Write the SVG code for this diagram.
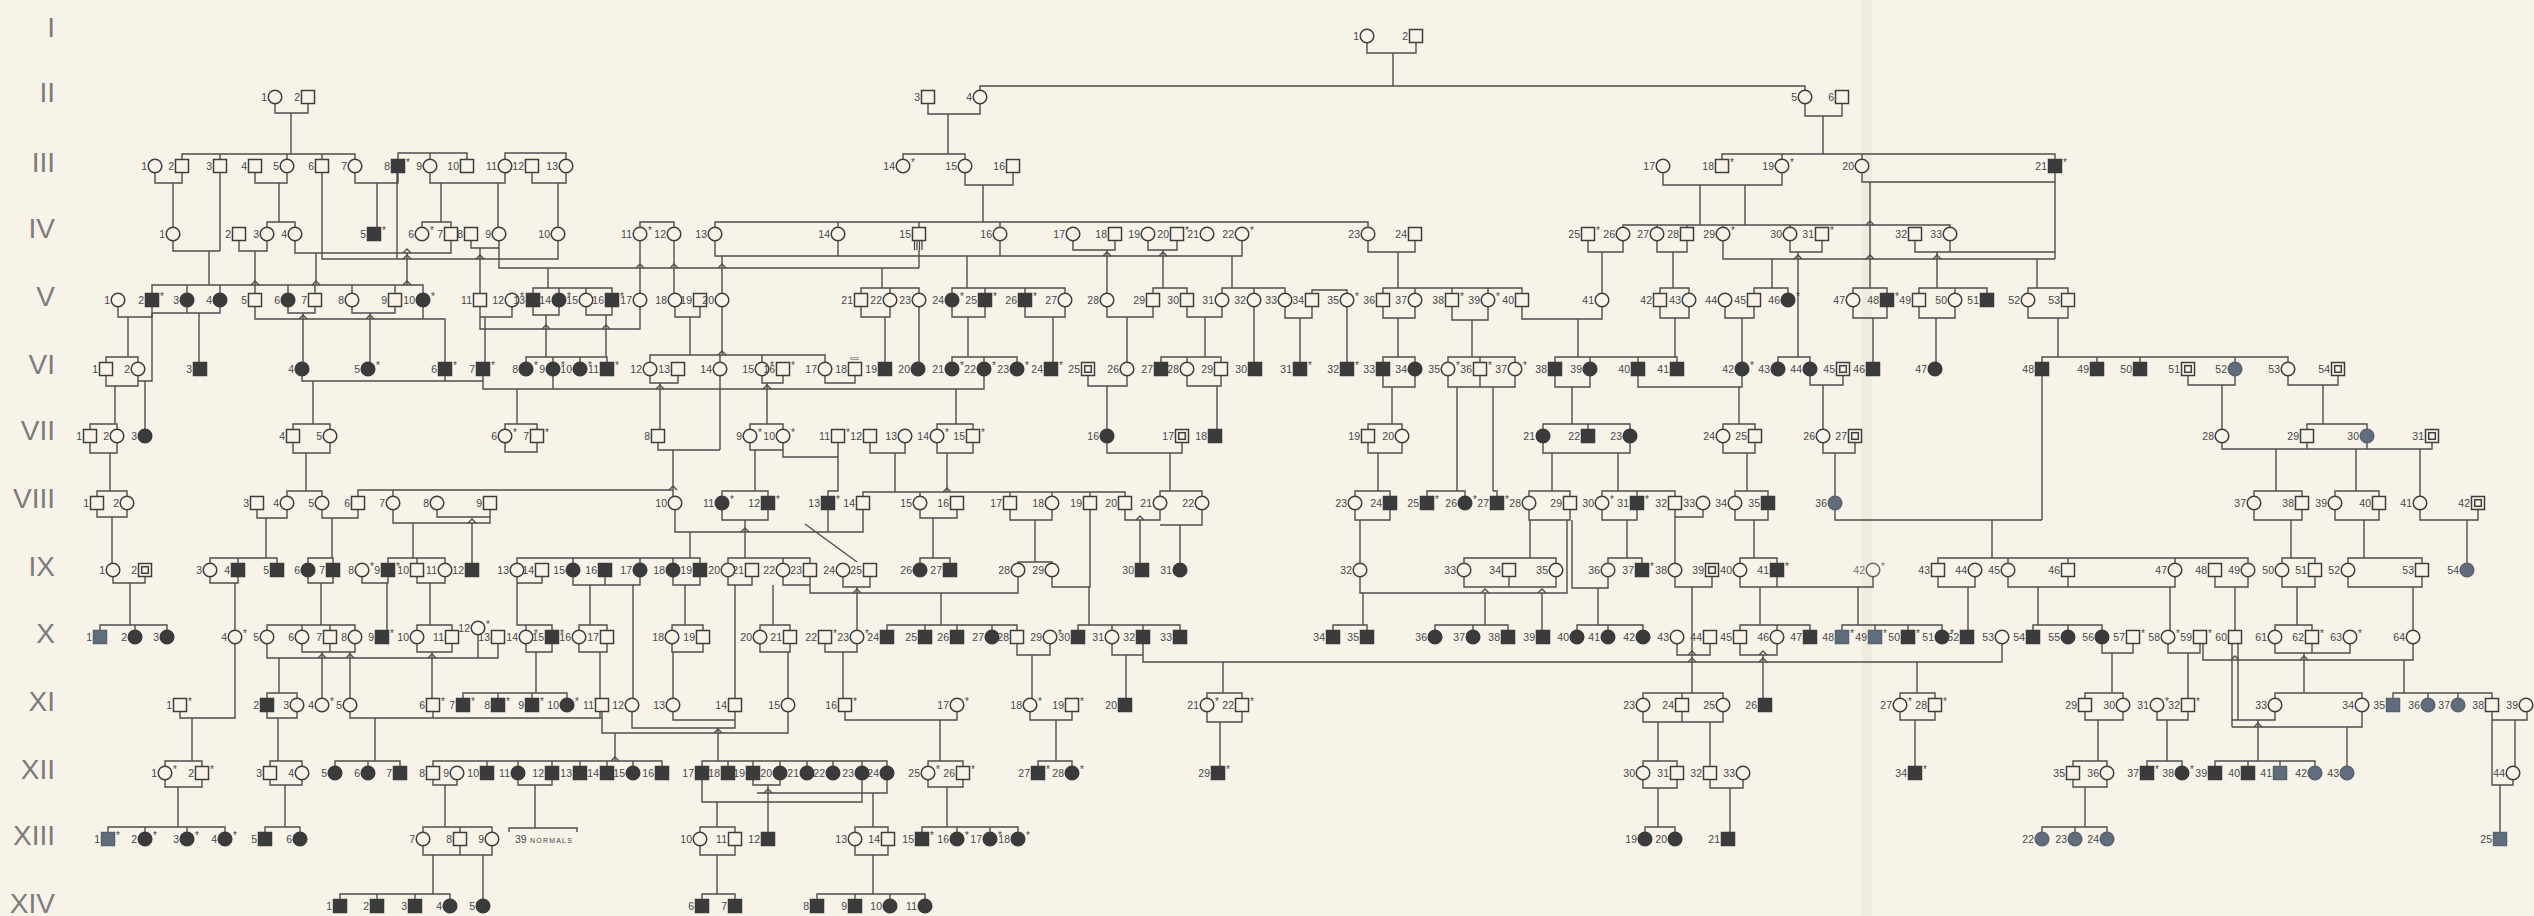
<svg xmlns="http://www.w3.org/2000/svg" xmlns:xlink="http://www.w3.org/1999/xlink" width="2534" height="916" viewBox="0 0 2534 916">
<style>
text{font-family:"Liberation Sans Narrow","Liberation Sans",Arial,sans-serif;font-size:10.5px;fill:#474747;text-anchor:end}
.k{text-anchor:start;font-size:10px}
.rn{font-size:28px;fill:#7c7c7c;text-anchor:end}
.o{fill:#f7f3e9;stroke:#3e3e3e;stroke-width:1.5}
.f{fill:#3b3b3b;stroke:#3b3b3b;stroke-width:1.5}
.b{fill:#5f6d7c;stroke:#59636f;stroke-width:1.5}
.cn path{fill:none;stroke:#4e4e4e;stroke-width:1.4}
.sm{font-size:7px;letter-spacing:1.2px;text-anchor:start}
</style>
<defs>
<rect id="s" x="-6.5" y="-6.5" width="13" height="13" class="o"/>
<circle id="c" r="6.8" class="o"/>
<rect id="S" x="-6.5" y="-6.5" width="13" height="13" class="f"/>
<circle id="C" r="6.8" class="f"/>
<rect id="B" x="-6.5" y="-6.5" width="13" height="13" class="b"/>
<circle id="D" r="6.8" class="b"/>
<g id="q"><rect x="-6.5" y="-6.5" width="13" height="13" class="o"/><rect x="-3.3" y="-3.3" width="6.6" height="6.6" class="o"/></g>
<g id="h"><rect x="-6.5" y="-6.5" width="13" height="13" class="o"/><path d="M-4.5 6.5V16M-2 6.5V16M0.5 6.5V16M3 6.5V16" stroke="#3e3e3e" stroke-width="1.2"/></g>
</defs>
<rect width="2534" height="916" fill="#f7f3e9"/>
<rect x="1862" y="0" width="10" height="916" fill="#e9e3d5" opacity="0.5"/>
<g id="generations">
<text class="rn" x="55" y="37">I</text>
<text class="rn" x="55" y="102">II</text>
<text class="rn" x="55" y="172">III</text>
<text class="rn" x="55" y="238">IV</text>
<text class="rn" x="55" y="306">V</text>
<text class="rn" x="55" y="374">VI</text>
<text class="rn" x="55" y="440">VII</text>
<text class="rn" x="55" y="508">VIII</text>
<text class="rn" x="55" y="576">IX</text>
<text class="rn" x="55" y="643">X</text>
<text class="rn" x="55" y="711">XI</text>
<text class="rn" x="55" y="779">XII</text>
<text class="rn" x="55" y="845">XIII</text>
<text class="rn" x="55" y="913">XIV</text>
</g>
<g id="connectors" class="cn">
<path d="M1367,42.5V53H1416V42.5M1393,53V86M980,90.5V86H1805V90.5M275,103.5V113H308V103.5M291,113V154M182,159.5V154H355V159.5M220,154V159.5M287,154V159.5M322,154V159.5M928,103.5V114H980V103.5M948,114V154M903,159.5V154H965V159.5M1805,103.5V116H1842V103.5M1823,116V154M1722,159.5V154H2055V159.5M1782,154V159.5M1862,154V159.5"/>
<path d="M155,172.5V183H182V172.5M173,183V227.5M220,172.5V251M173,240.5V251H220M209,251V285M255,172.5V183H287V172.5M279,183V222M267,227.5V222H295V227.5M295,240.5V253H451V240.5M322,172.5V259H558V240.5M397,172.5V259M316,253V285M407,253V285M355,172.5V183H398V172.5M377,183V227.5M398,159.5V153H467V159.5M430,153V159.5M430,172.5V183H505V172.5M441,183V222M422,227.5V222H451V227.5M498,183V227.5M505,159.5V153H566V159.5M532,172.5V183H566V172.5M558,183V227.5M965,172.5V185H1013V172.5M983,185V222M1663,172.5V185H1782V172.5M1700,185V225M1745,185V225M1862,172.5V182H2055M2055,172.5V259"/>
<path d="M152,293.5V285H423V293.5M187,285V293.5M220,285V293.5M255,285V293.5M288,285V293.5M315,285V293.5M352,285V293.5M395,285V293.5M239,240.5V251H267V240.5M255,251V285M471,240.5V248H499V240.5M480,248V293.5M499,240.5V268H919M548,268V288M640,227.5V222H674V227.5M640,240.5V293.5M674,240.5V293.5M715,227.5V222H1368V227.5M838,222V227.5M919,222V227.5M1000,222V227.5M715,240.5V256H1242V240.5M838,240.5V256M1000,240.5V256M722,256V293.5M919,250V268M882,268V288M861,293.5V288H919V293.5M890,288V293.5M967,256V288M952,293.5V288H1065V293.5M985,288V293.5M1025,288V293.5M1073,240.5V250H1115V240.5M1107,250V293.5M1148,240.5V250H1177V240.5M1163,250V288M1153,293.5V288H1187V293.5M1232,256V288M1222,293.5V288H1285V293.5M1254,288V293.5M1312,293.5V290H1347V293.5M1368,240.5V252H1415V240.5M1398,252V288M1383,293.5V288H1522V293.5M1415,288V293.5M1452,288V293.5M1488,288V293.5M1588,240.5V252H1623V240.5M1602,252V293.5M1623,227.5V225H1950V227.5M1657,225V227.5M1687,225V227.5M1723,225V227.5M1790,225V227.5M1657,240.5V252H1687V240.5M1673,252V288M1660,293.5V288H1689V293.5M1723,240.5V259H2055M1790,240.5V252H1822V240.5M1798,252V357M1772,259V288M1754,293.5V288H1788V293.5M1870,182V288M1853,293.5V288H1887V293.5M1915,240.5V252H2055M1950,240.5V252M1937,252V288M1919,293.5V288H1987V293.5M1955,288V293.5M2037,259V288M2028,293.5V288H2068V293.5"/>
<path d="M118,306.5V317H152V306.5M128,317V357M106,362.5V357H138V362.5M152,306.5V313H220V306.5M187,306.5V313M199,313V362.5M255,306.5V319H445V362.5M423,306.5V319M288,306.5V313H315V306.5M303,313V362.5M352,306.5V313H395V306.5M370,313V362.5M480,306.5V317H512V306.5M485,317V362.5M480,317V329H640V306.5M533,293.5V288H612V293.5M559,288V293.5M586,288V293.5M533,306.5V315H559V306.5M546,315V357M526,362.5V357H607V362.5M553,357V362.5M580,357V362.5M586,306.5V315H612V306.5M606,315V357M675,306.5V317H700V306.5M690,317V355M650,362.5V355H825V362.5M720,355V362.5M762,355V362.5M722,306.5V355M861,306.5V317H890V306.5M885,317V362.5M919,306.5V362.5M952,306.5V317H985V306.5M968,317V357M952,362.5V357H1017V362.5M984,357V362.5M1025,306.5V317H1065V306.5M1053,317V362.5M1107,306.5V317H1153V306.5M1127,317V362.5M1187,306.5V317H1222V306.5M1205,317V357M1161,362.5V357H1221V362.5M1187,357V362.5M1254,306.5V362.5M1285,306.5V318H1312V306.5M1300,318V362.5M1347,306.5V362.5M1383,306.5V318H1415V306.5M1398,318V357M1383,362.5V357H1415V362.5M1452,306.5V320H1488V306.5M1472,320V357M1448,362.5V357H1515V362.5M1480,357V362.5M1522,306.5V319H1602V306.5M1578,319V357M1555,362.5V357H1677V362.5M1590,357V362.5M1638,357V362.5M1660,306.5V318H1689V306.5M1675,318V357M1725,306.5V318H1754V306.5M1742,318V362.5M1853,306.5V318H1887V306.5M1873,318V362.5M1919,306.5V318H1955V306.5M1936,318V362.5M2028,306.5V318H2068V306.5M2058,318V357M2042,362.5V357H2288V362.5M2097,357V362.5M2140,357V362.5M2235,357V362.5M1778,362.5V357H1810V362.5"/>
<path d="M152,313V381H138V375.5M145,381V429.5M106,375.5V386H138V381M115,386V424M90,429.5V424H117V429.5M302,375.5V381H483M313,381V424M293,429.5V424H330V429.5M445,375.5V381M483,375.5V389H984V375.5M553,375.5V389M517,389V424M505,429.5V424H537V429.5M650,375.5V383H678V375.5M660,383V429.5M720,375.5V450M658,442.5V450H720M762,375.5V383H783V375.5M767,383V424M750,429.5V424H783V429.5M825,375.5V383H855V375.5M956,389V424M937,429.5V424H973V429.5M1088,375.5V386H1127V375.5M1107,386V429.5M1187,375.5V386H1221V375.5M1217,386V429.5M1383,375.5V387H1415V375.5M1392,387V424M1368,429.5V424H1402V429.5M1448,375.5V387H1515V375.5M1480,375.5V387M1457,387V491M1493,387V491M1555,375.5V387H1590V375.5M1572,387V424M1543,429.5V424H1630V429.5M1588,424V429.5M1638,375.5V387H1742V375.5M1739,387V424M1723,429.5V424H1755V429.5M1810,375.5V385H1843V375.5M1823,385V429.5M2042,375.5V520M2188,375.5V385H2235V375.5M2222,385V429.5M2288,375.5V385H2338V375.5M2323,385V424M2307,429.5V424H2367V429.5"/>
<path d="M90,442.5V453H117V442.5M110,453V491M97,496.5V491H127V496.5M293,442.5V453H330V442.5M306,453V491M287,496.5V491H322V496.5M505,442.5V452H537V442.5M673,450V496.5M358,496.5V490H673M393,490V496.5M750,442.5V450H783V442.5M783,442.5V457H838M755,450V491M722,496.5V491H768V496.5M838,442.5V491H828V496.5M870,442.5V453H905V442.5M895,453V492M863,496.5V492H1125V496.5M920,492V496.5M1010,492V496.5M1052,492V496.5M1090,492V496.5M937,442.5V453H973V442.5M947,453V492M1107,442.5V453H1182V442.5M1170,453V491M1160,496.5V491H1202V496.5M1368,442.5V453H1402V442.5M1378,453V491M1355,496.5V491H1390V496.5M1427,496.5V491H1465V496.5M1493,491H1497V496.5M1543,442.5V453H1630V442.5M1552,453V491M1529,496.5V491H1570V496.5M1618,453V491M1602,496.5V491H1675V496.5M1637,491V496.5M1723,442.5V453H1755V442.5M1747,453V491M1735,496.5V491H1768V496.5M1823,442.5V453H1855V442.5M1835,453V496.5M2222,442.5V449H2432V442.5M2307,442.5V449M2367,442.5V449M2276,449V491M2254,496.5V491H2302V496.5M2356,449V491M2335,496.5V491H2379V496.5M2420,449V496.5"/>
<path d="M97,509.5V517H127V509.5M112,517V563.5M257,509.5V518H287V509.5M266,518V558M210,563.5V558H277V563.5M238,558V563.5M322,509.5V518H358V509.5M332,518V558M308,563.5V558H333V563.5M393,509.5V523H490V509.5M437,509.5V517H490M413,523V558M388,563.5V558H445V563.5M417,558V563.5M472,523V563.5M675,509.5V532H863V509.5M828,509.5V532M690,532V558M517,563.5V558H700V563.5M573,558V563.5M640,558V563.5M673,558V563.5M722,509.5V520H768V509.5M745,520V558M728,563.5V558H810V563.5M783,558V563.5M805,524L857,562M920,509.5V518H957V509.5M933,518V558M920,563.5V558H950V563.5M1010,509.5V520H1052V509.5M1035,520V562M1018,563.5V562H1052V563.5M1090,509.5V587H1052V576.5M1089,587V625M1125,509.5V520H1160V509.5M1140,520V563.5M1202,509.5V525H1160M1180,525V563.5M1355,509.5V520H1390V509.5M1360,520V563.5M1529,509.5V520H1570V509.5M1530,520V558M1464,563.5V558H1556V563.5M1567,520V593H1360V576.5M1572,520V588H1608V576.5M1602,509.5V520H1637V509.5M1627,520V558M1608,563.5V558H1642V563.5M1675,509.5V563.5M1703,509.5V517H1675M1735,509.5V520H1768V509.5M1754,520V558M1740,563.5V558H1777V563.5M1835,509.5V520H2042M1992,520V558M1938,563.5V558H2248V563.5M2008,558V563.5M2068,558V563.5M2175,558V563.5M2254,509.5V520H2302V509.5M2291,520V558M2282,563.5V558H2315V563.5M2335,509.5V520H2379V509.5M2364,520V558M2348,563.5V558H2422V563.5M2420,509.5V520H2478V509.5M2467,520V563.5"/>
<path d="M113,576.5V583H145V576.5M130,583V625M100,630.5V625H167V630.5M135,625V630.5M210,576.5V583H238V576.5M235,583V630.5M308,576.5V583H333V576.5M321,583V625M267,630.5V625H355V630.5M302,625V630.5M330,625V630.5M362,576.5V583H388V576.5M387,583V630.5M417,576.5V583H445V576.5M430,583V625M417,630.5V625H452V630.5M517,576.5V583H542V576.5M517,583V625H552V630.5M526,625V630.5M573,576.5V585H640V576.5M605,576.5V585M590,585V625M579,630.5V625H607V630.5M633,585V698.5M673,576.5V585H700V576.5M685,585V625M672,630.5V625H703V630.5M728,576.5V585H752V576.5M735,585V698.5M783,576.5V585H810V576.5M773,585V625M760,630.5V625H790V630.5M810,585V593H1018V576.5M843,576.5V587H870V576.5M857,587V630.5M941,593V625M887,630.5V625H1017V630.5M925,625V630.5M957,625V630.5M992,625V630.5M1078,630.5V625H1180V630.5M1112,625V630.5M1143,625V630.5M1363,593V625M1333,630.5V625H1367V630.5M1485,593V625M1435,630.5V625H1508V630.5M1473,625V630.5M1542,593V630.5M1464,576.5V587H1556V576.5M1509,576.5V587M1598,588V625M1577,630.5V625H1643V630.5M1608,625V630.5M1675,576.5V587H1712V576.5M1692,587V693M1740,576.5V587H1873V576.5M1777,576.5V587M1760,587V625M1740,630.5V625H1810V630.5M1777,625V630.5M1858,587V625M1842,630.5V625H1942V630.5M1875,625V630.5M1908,625V630.5M1938,576.5V587H1975V576.5M1968,587V630.5M2008,576.5V587H2175V576.5M2068,576.5V587M2038,587V625M2033,630.5V625H2102V630.5M2068,625V630.5M2170,587V630.5M2215,576.5V587H2248V576.5M2235,587V630.5M2282,576.5V587H2315V576.5M2297,587V625M2275,630.5V625H2312V630.5M2348,576.5V587H2422V576.5M2413,587V630.5"/>
<path d="M235,643.5V718H180V711.5M267,643.5V658H498V643.5M279,658V693M267,698.5V693H297V698.5M302,643.5V652H355V643.5M330,643.5V652M322,652V698.5M350,652V698.5M417,643.5V652H452V643.5M432,652V698.5M478,634.5V658M526,643.5V652H552V643.5M536,652V693M463,698.5V693H567V698.5M498,693V698.5M532,693V698.5M579,643.5V652H607V643.5M600,652V718M672,643.5V652H703V643.5M673,652V698.5M760,643.5V652H790V643.5M788,652V698.5M825,643.5V652H857V643.5M843,652V698.5M1017,643.5V655H1050V643.5M1032,655V698.5M1112,643.5V655H1143V643.5M1126,655V698.5M1143,655V662H2002V643.5M1223,662V693M1207,698.5V693H1242V698.5M1917,662V693M1900,698.5V693H1935V698.5M1677,643.5V655H1710V643.5M1643,698.5V693H1723V698.5M1682,693V698.5M1740,643.5V655H1777V643.5M1763,655V698.5M2102,643.5V653H2133V643.5M2112,653V693M2085,698.5V693H2123V698.5M2168,643.5V653H2200V643.5M2188,653V698.5M2203,643.5V660H2413V643.5M2404,660V693M2393,698.5V693H2492V698.5M2428,693V698.5M2458,693V698.5M2232,643.5V727M2238,643.5V720M2275,643.5V653H2350V643.5M2312,643.5V653M2304,653V693M2275,698.5V693H2362V698.5"/>
<path d="M192,718V761M165,766.5V761H202V766.5M267,711.5V718H297V711.5M278,718V761M270,766.5V761H302V766.5M350,711.5V718H602V711.5M433,711.5V718M375,718V761M335,766.5V761H400V766.5M368,761V766.5M602,718V733H788V711.5M615,733V761M433,766.5V761H662V766.5M487,761V766.5M518,761V766.5M552,761V766.5M580,761V766.5M607,761V766.5M633,761V766.5M632,711.5V728H735V711.5M673,711.5V720H735M718,728V761M702,766.5V761H887V766.5M728,761V766.5M753,761V766.5M780,761V766.5M807,761V766.5M833,761V766.5M862,761V766.5M845,711.5V720H957V711.5M940,720V761M928,766.5V761H963V766.5M1030,711.5V720H1072V711.5M1056,720V761M1038,766.5V761H1072V766.5M1207,711.5V722H1242V711.5M1220,722V766.5M1643,711.5V722H1723V711.5M1682,711.5V722M1658,722V761M1643,766.5V761H1677V766.5M1710,722V766.5M1900,711.5V720H1935V711.5M1915,720V766.5M2085,711.5V720H2123V711.5M2098,720V761M2073,766.5V761H2107V766.5M2157,711.5V720H2188V711.5M2167,720V761M2147,766.5V761H2182V766.5M2232,720H2275V711.5M2258,720V761M2215,766.5V761H2315V766.5M2248,761V766.5M2280,761V766.5M2232,727H2362V711.5M2347,727V766.5M2492,711.5V720H2527V711.5M2515,720V766.5M2492,720V785H2513V779.5M2500,785V832.5"/>
<path d="M165,779.5V787H202V779.5M178,787V827M108,832.5V827H225V832.5M145,827V832.5M187,827V832.5M270,779.5V785H302V779.5M285,785V827M265,832.5V827H300V832.5M433,779.5V785H457V779.5M445,785V827M423,832.5V827H492V832.5M460,827V832.5M518,779.5V785H552V779.5M535,785V828M509,832V828H577V832M702,779.5V802H862V779.5M717,802V827M700,832.5V827H735V832.5M753,779.5V785H780V779.5M768,785V832.5M757,793H887V779.5M873,793V827M855,832.5V827H888V832.5M928,779.5V787H963V779.5M947,787V827M922,832.5V827H1018V832.5M957,827V832.5M990,827V832.5M1643,779.5V788H1677V779.5M1658,788V827M1645,832.5V827H1675V832.5M1710,779.5V788H1743V779.5M1730,788V832.5M2073,779.5V787H2107V779.5M2085,787V827M2042,832.5V827H2107V832.5M2075,827V832.5M423,845.5V855H492V845.5M460,845.5V855M433,855V894M340,899.5V894H450V899.5M377,894V899.5M415,894V899.5M483,855V899.5M700,845.5V855H735V845.5M717,855V894M702,899.5V894H735V899.5M855,845.5V855H888V845.5M873,855V894M817,899.5V894H925V899.5M855,894V899.5M890,894V899.5"/>
<path id="hops" d="M251,285l4,-4l4,4M312,285l4,-4l4,4M403,285l4,-4l4,4M403,253l4,-4l4,4M403,259l4,-4l4,4M299,319l4,-4l4,4M366,319l4,-4l4,4M476,259l4,-4l4,4M636,268l4,-4l4,4M670,268l4,-4l4,4M718,268l4,-4l4,4M1103,256l4,-4l4,4M1159,256l4,-4l4,4M542,329l4,-4l4,4M602,329l4,-4l4,4M718,355l4,-4l4,4M656,389l4,-4l4,4M763,389l4,-4l4,4M669,490l4,-4l4,4M468,523l4,-4l4,4M741,532l4,-4l4,4M1136,520l4,-4l4,4M943,492l4,-4l4,4M853,593l4,-4l4,4M1481,593l4,-4l4,4M1538,593l4,-4l4,4M318,658l4,-4l4,4M346,658l4,-4l4,4M428,658l4,-4l4,4M714,733l4,-4l4,4M611,761l4,-4l4,4M764,793l4,-4l4,4M1866,225l4,-4l4,4M1794,259l4,-4l4,4M1866,259l4,-4l4,4M1933,259l4,-4l4,4M1688,655l4,-4l4,4M1759,655l4,-4l4,4M1688,662l4,-4l4,4M1759,662l4,-4l4,4M2231,660l4,-4l4,4M2300,660l4,-4l4,4M2254,727l4,-4l4,4"/>
</g>
<g id="nodes">
<g id="g1-1" transform="translate(1367 36)"><use href="#c"/><text x="-8" y="4">1</text></g>
<g id="g1-2" transform="translate(1416 36)"><use href="#s"/><text x="-8" y="4">2</text></g>
<g id="g2-1" transform="translate(275 97)"><use href="#c"/><text x="-8" y="4">1</text></g>
<g id="g2-2" transform="translate(308 97)"><use href="#s"/><text x="-8" y="4">2</text></g>
<g id="g2-3" transform="translate(928 97)"><use href="#s"/><text x="-8" y="4">3</text></g>
<g id="g2-4" transform="translate(980 97)"><use href="#c"/><text x="-8" y="4">4</text></g>
<g id="g2-5" transform="translate(1805 97)"><use href="#c"/><text x="-8" y="4">5</text></g>
<g id="g2-6" transform="translate(1842 97)"><use href="#s"/><text x="-8" y="4">6</text></g>
<g id="g3-1" transform="translate(155 166)"><use href="#c"/><text x="-8" y="4">1</text></g>
<g id="g3-2" transform="translate(182 166)"><use href="#s"/><text x="-8" y="4">2</text></g>
<g id="g3-3" transform="translate(220 166)"><use href="#s"/><text x="-8" y="4">3</text></g>
<g id="g3-4" transform="translate(255 166)"><use href="#s"/><text x="-8" y="4">4</text></g>
<g id="g3-5" transform="translate(287 166)"><use href="#c"/><text x="-8" y="4">5</text></g>
<g id="g3-6" transform="translate(322 166)"><use href="#s"/><text x="-8" y="4">6</text></g>
<g id="g3-7" transform="translate(355 166)"><use href="#c"/><text x="-8" y="4">7</text></g>
<g id="g3-8" transform="translate(398 166)"><use href="#S"/><text x="-8" y="4">8</text><text class="k" x="8" y="0">*</text></g>
<g id="g3-9" transform="translate(430 166)"><use href="#c"/><text x="-8" y="4">9</text></g>
<g id="g3-10" transform="translate(467 166)"><use href="#s"/><text x="-8" y="4">10</text></g>
<g id="g3-11" transform="translate(505 166)"><use href="#c"/><text x="-8" y="4">11</text></g>
<g id="g3-12" transform="translate(532 166)"><use href="#s"/><text x="-8" y="4">12</text></g>
<g id="g3-13" transform="translate(566 166)"><use href="#c"/><text x="-8" y="4">13</text></g>
<g id="g3-14" transform="translate(903 166)"><use href="#c"/><text x="-8" y="4">14</text><text class="k" x="8" y="0">*</text></g>
<g id="g3-15" transform="translate(965 166)"><use href="#c"/><text x="-8" y="4">15</text></g>
<g id="g3-16" transform="translate(1013 166)"><use href="#s"/><text x="-8" y="4">16</text></g>
<g id="g3-17" transform="translate(1663 166)"><use href="#c"/><text x="-8" y="4">17</text></g>
<g id="g3-18" transform="translate(1722 166)"><use href="#s"/><text x="-8" y="4">18</text><text class="k" x="8" y="0">*</text></g>
<g id="g3-19" transform="translate(1782 166)"><use href="#c"/><text x="-8" y="4">19</text><text class="k" x="8" y="0">*</text></g>
<g id="g3-20" transform="translate(1862 166)"><use href="#c"/><text x="-8" y="4">20</text></g>
<g id="g3-21" transform="translate(2055 166)"><use href="#S"/><text x="-8" y="4">21</text><text class="k" x="8" y="0">*</text></g>
<g id="g4-1" transform="translate(173 234)"><use href="#c"/><text x="-8" y="4">1</text></g>
<g id="g4-2" transform="translate(239 234)"><use href="#s"/><text x="-8" y="4">2</text></g>
<g id="g4-3" transform="translate(267 234)"><use href="#c"/><text x="-8" y="4">3</text></g>
<g id="g4-4" transform="translate(295 234)"><use href="#c"/><text x="-8" y="4">4</text></g>
<g id="g4-5" transform="translate(374 234)"><use href="#S"/><text x="-8" y="4">5</text><text class="k" x="8" y="0">*</text></g>
<g id="g4-6" transform="translate(422 234)"><use href="#c"/><text x="-8" y="4">6</text><text class="k" x="8" y="0">*</text></g>
<g id="g4-7" transform="translate(451 234)"><use href="#s"/><text x="-8" y="4">7</text></g>
<g id="g4-8" transform="translate(471 234)"><use href="#s"/><text x="-8" y="4">8</text></g>
<g id="g4-9" transform="translate(499 234)"><use href="#c"/><text x="-8" y="4">9</text></g>
<g id="g4-10" transform="translate(558 234)"><use href="#c"/><text x="-8" y="4">10</text></g>
<g id="g4-11" transform="translate(640 234)"><use href="#c"/><text x="-8" y="4">11</text><text class="k" x="8" y="0">*</text></g>
<g id="g4-12" transform="translate(674 234)"><use href="#c"/><text x="-8" y="4">12</text></g>
<g id="g4-13" transform="translate(715 234)"><use href="#c"/><text x="-8" y="4">13</text></g>
<g id="g4-14" transform="translate(838 234)"><use href="#c"/><text x="-8" y="4">14</text></g>
<g id="g4-15" transform="translate(919 234)"><use href="#h"/><text x="-8" y="4">15</text></g>
<g id="g4-16" transform="translate(1000 234)"><use href="#c"/><text x="-8" y="4">16</text></g>
<g id="g4-17" transform="translate(1073 234)"><use href="#c"/><text x="-8" y="4">17</text></g>
<g id="g4-18" transform="translate(1115 234)"><use href="#s"/><text x="-8" y="4">18</text></g>
<g id="g4-19" transform="translate(1148 234)"><use href="#c"/><text x="-8" y="4">19</text></g>
<g id="g4-20" transform="translate(1177 234)"><use href="#s"/><text x="-8" y="4">20</text><text class="k" x="8" y="0">*</text></g>
<g id="g4-21" transform="translate(1207 234)"><use href="#c"/><text x="-8" y="4">21</text></g>
<g id="g4-22" transform="translate(1242 234)"><use href="#c"/><text x="-8" y="4">22</text><text class="k" x="8" y="0">*</text></g>
<g id="g4-23" transform="translate(1368 234)"><use href="#c"/><text x="-8" y="4">23</text></g>
<g id="g4-24" transform="translate(1415 234)"><use href="#s"/><text x="-8" y="4">24</text></g>
<g id="g4-25" transform="translate(1588 234)"><use href="#s"/><text x="-8" y="4">25</text><text class="k" x="8" y="0">*</text></g>
<g id="g4-26" transform="translate(1623 234)"><use href="#c"/><text x="-8" y="4">26</text></g>
<g id="g4-27" transform="translate(1657 234)"><use href="#c"/><text x="-8" y="4">27</text></g>
<g id="g4-28" transform="translate(1687 234)"><use href="#s"/><text x="-8" y="4">28</text></g>
<g id="g4-29" transform="translate(1723 234)"><use href="#c"/><text x="-8" y="4">29</text><text class="k" x="8" y="0">*</text></g>
<g id="g4-30" transform="translate(1790 234)"><use href="#c"/><text x="-8" y="4">30</text></g>
<g id="g4-31" transform="translate(1822 234)"><use href="#s"/><text x="-8" y="4">31</text><text class="k" x="8" y="0">*</text></g>
<g id="g4-32" transform="translate(1915 234)"><use href="#s"/><text x="-8" y="4">32</text></g>
<g id="g4-33" transform="translate(1950 234)"><use href="#c"/><text x="-8" y="4">33</text></g>
<g id="g5-1" transform="translate(118 300)"><use href="#c"/><text x="-8" y="4">1</text></g>
<g id="g5-2" transform="translate(152 300)"><use href="#S"/><text x="-8" y="4">2</text><text class="k" x="8" y="0">*</text></g>
<g id="g5-3" transform="translate(187 300)"><use href="#C"/><text x="-8" y="4">3</text></g>
<g id="g5-4" transform="translate(220 300)"><use href="#C"/><text x="-8" y="4">4</text></g>
<g id="g5-5" transform="translate(255 300)"><use href="#s"/><text x="-8" y="4">5</text></g>
<g id="g5-6" transform="translate(288 300)"><use href="#C"/><text x="-8" y="4">6</text></g>
<g id="g5-7" transform="translate(315 300)"><use href="#s"/><text x="-8" y="4">7</text></g>
<g id="g5-8" transform="translate(352 300)"><use href="#c"/><text x="-8" y="4">8</text></g>
<g id="g5-9" transform="translate(395 300)"><use href="#s"/><text x="-8" y="4">9</text></g>
<g id="g5-10" transform="translate(423 300)"><use href="#C"/><text x="-8" y="4">10</text><text class="k" x="8" y="0">*</text></g>
<g id="g5-11" transform="translate(480 300)"><use href="#s"/><text x="-8" y="4">11</text></g>
<g id="g5-12" transform="translate(512 300)"><use href="#c"/><text x="-8" y="4">12</text><text class="k" x="8" y="0">*</text></g>
<g id="g5-13" transform="translate(533 300)"><use href="#S"/><text x="-8" y="4">13</text></g>
<g id="g5-14" transform="translate(559 300)"><use href="#C"/><text x="-8" y="4">14</text><text class="k" x="8" y="0">*</text></g>
<g id="g5-15" transform="translate(586 300)"><use href="#c"/><text x="-8" y="4">15</text></g>
<g id="g5-16" transform="translate(612 300)"><use href="#S"/><text x="-8" y="4">16</text><text class="k" x="8" y="0">*</text></g>
<g id="g5-17" transform="translate(640 300)"><use href="#c"/><text x="-8" y="4">17</text></g>
<g id="g5-18" transform="translate(675 300)"><use href="#c"/><text x="-8" y="4">18</text></g>
<g id="g5-19" transform="translate(700 300)"><use href="#s"/><text x="-8" y="4">19</text></g>
<g id="g5-20" transform="translate(722 300)"><use href="#c"/><text x="-8" y="4">20</text></g>
<g id="g5-21" transform="translate(861 300)"><use href="#s"/><text x="-8" y="4">21</text></g>
<g id="g5-22" transform="translate(890 300)"><use href="#c"/><text x="-8" y="4">22</text></g>
<g id="g5-23" transform="translate(919 300)"><use href="#c"/><text x="-8" y="4">23</text></g>
<g id="g5-24" transform="translate(952 300)"><use href="#C"/><text x="-8" y="4">24</text><text class="k" x="8" y="0">*</text></g>
<g id="g5-25" transform="translate(985 300)"><use href="#S"/><text x="-8" y="4">25</text><text class="k" x="8" y="0">*</text></g>
<g id="g5-26" transform="translate(1025 300)"><use href="#S"/><text x="-8" y="4">26</text><text class="k" x="8" y="0">*</text></g>
<g id="g5-27" transform="translate(1065 300)"><use href="#c"/><text x="-8" y="4">27</text></g>
<g id="g5-28" transform="translate(1107 300)"><use href="#c"/><text x="-8" y="4">28</text></g>
<g id="g5-29" transform="translate(1153 300)"><use href="#s"/><text x="-8" y="4">29</text></g>
<g id="g5-30" transform="translate(1187 300)"><use href="#s"/><text x="-8" y="4">30</text></g>
<g id="g5-31" transform="translate(1222 300)"><use href="#c"/><text x="-8" y="4">31</text></g>
<g id="g5-32" transform="translate(1254 300)"><use href="#c"/><text x="-8" y="4">32</text></g>
<g id="g5-33" transform="translate(1285 300)"><use href="#c"/><text x="-8" y="4">33</text></g>
<g id="g5-34" transform="translate(1312 300)"><use href="#s"/><text x="-8" y="4">34</text></g>
<g id="g5-35" transform="translate(1347 300)"><use href="#c"/><text x="-8" y="4">35</text><text class="k" x="8" y="0">*</text></g>
<g id="g5-36" transform="translate(1383 300)"><use href="#s"/><text x="-8" y="4">36</text></g>
<g id="g5-37" transform="translate(1415 300)"><use href="#c"/><text x="-8" y="4">37</text></g>
<g id="g5-38" transform="translate(1452 300)"><use href="#s"/><text x="-8" y="4">38</text><text class="k" x="8" y="0">*</text></g>
<g id="g5-39" transform="translate(1488 300)"><use href="#c"/><text x="-8" y="4">39</text><text class="k" x="8" y="0">*</text></g>
<g id="g5-40" transform="translate(1522 300)"><use href="#s"/><text x="-8" y="4">40</text></g>
<g id="g5-41" transform="translate(1602 300)"><use href="#c"/><text x="-8" y="4">41</text></g>
<g id="g5-42" transform="translate(1660 300)"><use href="#s"/><text x="-8" y="4">42</text></g>
<g id="g5-43" transform="translate(1689 300)"><use href="#c"/><text x="-8" y="4">43</text></g>
<g id="g5-44" transform="translate(1725 300)"><use href="#c"/><text x="-8" y="4">44</text></g>
<g id="g5-45" transform="translate(1754 300)"><use href="#s"/><text x="-8" y="4">45</text></g>
<g id="g5-46" transform="translate(1788 300)"><use href="#C"/><text x="-8" y="4">46</text><text class="k" x="8" y="0">*</text></g>
<g id="g5-47" transform="translate(1853 300)"><use href="#c"/><text x="-8" y="4">47</text></g>
<g id="g5-48" transform="translate(1887 300)"><use href="#S"/><text x="-8" y="4">48</text><text class="k" x="8" y="0">*</text></g>
<g id="g5-49" transform="translate(1919 300)"><use href="#s"/><text x="-8" y="4">49</text></g>
<g id="g5-50" transform="translate(1955 300)"><use href="#c"/><text x="-8" y="4">50</text></g>
<g id="g5-51" transform="translate(1987 300)"><use href="#S"/><text x="-8" y="4">51</text></g>
<g id="g5-52" transform="translate(2028 300)"><use href="#c"/><text x="-8" y="4">52</text></g>
<g id="g5-53" transform="translate(2068 300)"><use href="#s"/><text x="-8" y="4">53</text></g>
<g id="g6-1" transform="translate(106 369)"><use href="#s"/><text x="-8" y="4">1</text></g>
<g id="g6-2" transform="translate(138 369)"><use href="#c"/><text x="-8" y="4">2</text></g>
<g id="g6-3" transform="translate(200 369)"><use href="#S"/><text x="-8" y="4">3</text></g>
<g id="g6-4" transform="translate(302 369)"><use href="#C"/><text x="-8" y="4">4</text></g>
<g id="g6-5" transform="translate(368 369)"><use href="#C"/><text x="-8" y="4">5</text><text class="k" x="8" y="0">*</text></g>
<g id="g6-6" transform="translate(445 369)"><use href="#S"/><text x="-8" y="4">6</text><text class="k" x="8" y="0">*</text></g>
<g id="g6-7" transform="translate(483 369)"><use href="#S"/><text x="-8" y="4">7</text><text class="k" x="8" y="0">*</text></g>
<g id="g6-8" transform="translate(526 369)"><use href="#C"/><text x="-8" y="4">8</text><text class="k" x="8" y="0">*</text></g>
<g id="g6-9" transform="translate(553 369)"><use href="#C"/><text x="-8" y="4">9</text><text class="k" x="8" y="0">*</text></g>
<g id="g6-10" transform="translate(580 369)"><use href="#C"/><text x="-8" y="4">10</text><text class="k" x="8" y="0">*</text></g>
<g id="g6-11" transform="translate(607 369)"><use href="#S"/><text x="-8" y="4">11</text><text class="k" x="8" y="0">*</text></g>
<g id="g6-12" transform="translate(650 369)"><use href="#c"/><text x="-8" y="4">12</text></g>
<g id="g6-13" transform="translate(678 369)"><use href="#s"/><text x="-8" y="4">13</text></g>
<g id="g6-14" transform="translate(720 369)"><use href="#c"/><text x="-8" y="4">14</text></g>
<g id="g6-15" transform="translate(762 369)"><use href="#c"/><text x="-8" y="4">15</text><text class="k" x="8" y="0">*</text></g>
<g id="g6-16" transform="translate(783 369)"><use href="#s"/><text x="-8" y="4">16</text><text class="k" x="8" y="0">*</text></g>
<g id="g6-17" transform="translate(825 369)"><use href="#c"/><text x="-8" y="4">17</text></g>
<g id="g6-18" transform="translate(855 369)"><use href="#s"/><text x="-8" y="4">18</text><text class="k" x="-5" y="-9" style="font-size:6px">ccc</text></g>
<g id="g6-19" transform="translate(885 369)"><use href="#S"/><text x="-8" y="4">19</text></g>
<g id="g6-20" transform="translate(918 369)"><use href="#C"/><text x="-8" y="4">20</text></g>
<g id="g6-21" transform="translate(952 369)"><use href="#C"/><text x="-8" y="4">21</text><text class="k" x="8" y="0">*</text></g>
<g id="g6-22" transform="translate(984 369)"><use href="#C"/><text x="-8" y="4">22</text><text class="k" x="8" y="0">*</text></g>
<g id="g6-23" transform="translate(1017 369)"><use href="#C"/><text x="-8" y="4">23</text><text class="k" x="8" y="0">*</text></g>
<g id="g6-24" transform="translate(1051 369)"><use href="#S"/><text x="-8" y="4">24</text><text class="k" x="8" y="0">*</text></g>
<g id="g6-25" transform="translate(1088 369)"><use href="#q"/><text x="-8" y="4">25</text></g>
<g id="g6-26" transform="translate(1127 369)"><use href="#c"/><text x="-8" y="4">26</text></g>
<g id="g6-27" transform="translate(1161 369)"><use href="#S"/><text x="-8" y="4">27</text></g>
<g id="g6-28" transform="translate(1187 369)"><use href="#c"/><text x="-8" y="4">28</text></g>
<g id="g6-29" transform="translate(1221 369)"><use href="#s"/><text x="-8" y="4">29</text></g>
<g id="g6-30" transform="translate(1255 369)"><use href="#S"/><text x="-8" y="4">30</text></g>
<g id="g6-31" transform="translate(1300 369)"><use href="#S"/><text x="-8" y="4">31</text><text class="k" x="8" y="0">*</text></g>
<g id="g6-32" transform="translate(1347 369)"><use href="#S"/><text x="-8" y="4">32</text><text class="k" x="8" y="0">*</text></g>
<g id="g6-33" transform="translate(1383 369)"><use href="#S"/><text x="-8" y="4">33</text></g>
<g id="g6-34" transform="translate(1415 369)"><use href="#C"/><text x="-8" y="4">34</text></g>
<g id="g6-35" transform="translate(1448 369)"><use href="#c"/><text x="-8" y="4">35</text><text class="k" x="8" y="0">*</text></g>
<g id="g6-36" transform="translate(1480 369)"><use href="#s"/><text x="-8" y="4">36</text><text class="k" x="8" y="0">*</text></g>
<g id="g6-37" transform="translate(1515 369)"><use href="#c"/><text x="-8" y="4">37</text><text class="k" x="8" y="0">*</text></g>
<g id="g6-38" transform="translate(1555 369)"><use href="#S"/><text x="-8" y="4">38</text></g>
<g id="g6-39" transform="translate(1590 369)"><use href="#C"/><text x="-8" y="4">39</text></g>
<g id="g6-40" transform="translate(1638 369)"><use href="#S"/><text x="-8" y="4">40</text></g>
<g id="g6-41" transform="translate(1677 369)"><use href="#S"/><text x="-8" y="4">41</text></g>
<g id="g6-42" transform="translate(1742 369)"><use href="#C"/><text x="-8" y="4">42</text><text class="k" x="8" y="0">*</text></g>
<g id="g6-43" transform="translate(1778 369)"><use href="#C"/><text x="-8" y="4">43</text></g>
<g id="g6-44" transform="translate(1810 369)"><use href="#C"/><text x="-8" y="4">44</text></g>
<g id="g6-45" transform="translate(1843 369)"><use href="#q"/><text x="-8" y="4">45</text></g>
<g id="g6-46" transform="translate(1873 369)"><use href="#S"/><text x="-8" y="4">46</text></g>
<g id="g6-47" transform="translate(1935 369)"><use href="#C"/><text x="-8" y="4">47</text></g>
<g id="g6-48" transform="translate(2042 369)"><use href="#S"/><text x="-8" y="4">48</text></g>
<g id="g6-49" transform="translate(2097 369)"><use href="#S"/><text x="-8" y="4">49</text></g>
<g id="g6-50" transform="translate(2140 369)"><use href="#S"/><text x="-8" y="4">50</text></g>
<g id="g6-51" transform="translate(2188 369)"><use href="#q"/><text x="-8" y="4">51</text></g>
<g id="g6-52" transform="translate(2235 369)"><use href="#D"/><text x="-8" y="4">52</text></g>
<g id="g6-53" transform="translate(2288 369)"><use href="#c"/><text x="-8" y="4">53</text></g>
<g id="g6-54" transform="translate(2338 369)"><use href="#q"/><text x="-8" y="4">54</text></g>
<g id="g7-1" transform="translate(90 436)"><use href="#s"/><text x="-8" y="4">1</text></g>
<g id="g7-2" transform="translate(117 436)"><use href="#c"/><text x="-8" y="4">2</text></g>
<g id="g7-3" transform="translate(145 436)"><use href="#C"/><text x="-8" y="4">3</text></g>
<g id="g7-4" transform="translate(293 436)"><use href="#s"/><text x="-8" y="4">4</text></g>
<g id="g7-5" transform="translate(330 436)"><use href="#c"/><text x="-8" y="4">5</text></g>
<g id="g7-6" transform="translate(505 436)"><use href="#c"/><text x="-8" y="4">6</text><text class="k" x="8" y="0">*</text></g>
<g id="g7-7" transform="translate(537 436)"><use href="#s"/><text x="-8" y="4">7</text><text class="k" x="8" y="0">*</text></g>
<g id="g7-8" transform="translate(658 436)"><use href="#s"/><text x="-8" y="4">8</text></g>
<g id="g7-9" transform="translate(750 436)"><use href="#c"/><text x="-8" y="4">9</text><text class="k" x="8" y="0">*</text></g>
<g id="g7-10" transform="translate(783 436)"><use href="#c"/><text x="-8" y="4">10</text><text class="k" x="8" y="0">*</text></g>
<g id="g7-11" transform="translate(838 436)"><use href="#s"/><text x="-8" y="4">11</text><text class="k" x="8" y="0">*</text></g>
<g id="g7-12" transform="translate(870 436)"><use href="#s"/><text x="-8" y="4">12</text></g>
<g id="g7-13" transform="translate(905 436)"><use href="#c"/><text x="-8" y="4">13</text></g>
<g id="g7-14" transform="translate(937 436)"><use href="#c"/><text x="-8" y="4">14</text><text class="k" x="8" y="0">*</text></g>
<g id="g7-15" transform="translate(973 436)"><use href="#s"/><text x="-8" y="4">15</text><text class="k" x="8" y="0">*</text></g>
<g id="g7-16" transform="translate(1107 436)"><use href="#C"/><text x="-8" y="4">16</text></g>
<g id="g7-17" transform="translate(1182 436)"><use href="#q"/><text x="-8" y="4">17</text></g>
<g id="g7-18" transform="translate(1215 436)"><use href="#S"/><text x="-8" y="4">18</text></g>
<g id="g7-19" transform="translate(1368 436)"><use href="#s"/><text x="-8" y="4">19</text></g>
<g id="g7-20" transform="translate(1402 436)"><use href="#c"/><text x="-8" y="4">20</text></g>
<g id="g7-21" transform="translate(1543 436)"><use href="#C"/><text x="-8" y="4">21</text></g>
<g id="g7-22" transform="translate(1588 436)"><use href="#S"/><text x="-8" y="4">22</text></g>
<g id="g7-23" transform="translate(1630 436)"><use href="#C"/><text x="-8" y="4">23</text></g>
<g id="g7-24" transform="translate(1723 436)"><use href="#c"/><text x="-8" y="4">24</text></g>
<g id="g7-25" transform="translate(1755 436)"><use href="#s"/><text x="-8" y="4">25</text></g>
<g id="g7-26" transform="translate(1823 436)"><use href="#c"/><text x="-8" y="4">26</text></g>
<g id="g7-27" transform="translate(1855 436)"><use href="#q"/><text x="-8" y="4">27</text></g>
<g id="g7-28" transform="translate(2222 436)"><use href="#c"/><text x="-8" y="4">28</text></g>
<g id="g7-29" transform="translate(2307 436)"><use href="#s"/><text x="-8" y="4">29</text></g>
<g id="g7-30" transform="translate(2367 436)"><use href="#D"/><text x="-8" y="4">30</text></g>
<g id="g7-31" transform="translate(2432 436)"><use href="#q"/><text x="-8" y="4">31</text></g>
<g id="g8-1" transform="translate(97 503)"><use href="#s"/><text x="-8" y="4">1</text></g>
<g id="g8-2" transform="translate(127 503)"><use href="#c"/><text x="-8" y="4">2</text></g>
<g id="g8-3" transform="translate(257 503)"><use href="#s"/><text x="-8" y="4">3</text></g>
<g id="g8-4" transform="translate(287 503)"><use href="#c"/><text x="-8" y="4">4</text></g>
<g id="g8-5" transform="translate(322 503)"><use href="#c"/><text x="-8" y="4">5</text></g>
<g id="g8-6" transform="translate(358 503)"><use href="#s"/><text x="-8" y="4">6</text></g>
<g id="g8-7" transform="translate(393 503)"><use href="#c"/><text x="-8" y="4">7</text></g>
<g id="g8-8" transform="translate(437 503)"><use href="#c"/><text x="-8" y="4">8</text></g>
<g id="g8-9" transform="translate(490 503)"><use href="#s"/><text x="-8" y="4">9</text></g>
<g id="g8-10" transform="translate(675 503)"><use href="#c"/><text x="-8" y="4">10</text></g>
<g id="g8-11" transform="translate(722 503)"><use href="#C"/><text x="-8" y="4">11</text><text class="k" x="8" y="0">*</text></g>
<g id="g8-12" transform="translate(768 503)"><use href="#S"/><text x="-8" y="4">12</text><text class="k" x="8" y="0">*</text></g>
<g id="g8-13" transform="translate(828 503)"><use href="#S"/><text x="-8" y="4">13</text><text class="k" x="8" y="0">*</text></g>
<g id="g8-14" transform="translate(863 503)"><use href="#s"/><text x="-8" y="4">14</text></g>
<g id="g8-15" transform="translate(920 503)"><use href="#c"/><text x="-8" y="4">15</text></g>
<g id="g8-16" transform="translate(957 503)"><use href="#s"/><text x="-8" y="4">16</text></g>
<g id="g8-17" transform="translate(1010 503)"><use href="#s"/><text x="-8" y="4">17</text></g>
<g id="g8-18" transform="translate(1052 503)"><use href="#c"/><text x="-8" y="4">18</text></g>
<g id="g8-19" transform="translate(1090 503)"><use href="#s"/><text x="-8" y="4">19</text></g>
<g id="g8-20" transform="translate(1125 503)"><use href="#s"/><text x="-8" y="4">20</text></g>
<g id="g8-21" transform="translate(1160 503)"><use href="#c"/><text x="-8" y="4">21</text></g>
<g id="g8-22" transform="translate(1202 503)"><use href="#c"/><text x="-8" y="4">22</text></g>
<g id="g8-23" transform="translate(1355 503)"><use href="#c"/><text x="-8" y="4">23</text></g>
<g id="g8-24" transform="translate(1390 503)"><use href="#S"/><text x="-8" y="4">24</text></g>
<g id="g8-25" transform="translate(1427 503)"><use href="#S"/><text x="-8" y="4">25</text><text class="k" x="8" y="0">*</text></g>
<g id="g8-26" transform="translate(1465 503)"><use href="#C"/><text x="-8" y="4">26</text><text class="k" x="8" y="0">*</text></g>
<g id="g8-27" transform="translate(1497 503)"><use href="#S"/><text x="-8" y="4">27</text><text class="k" x="8" y="0">*</text></g>
<g id="g8-28" transform="translate(1529 503)"><use href="#c"/><text x="-8" y="4">28</text></g>
<g id="g8-29" transform="translate(1570 503)"><use href="#s"/><text x="-8" y="4">29</text></g>
<g id="g8-30" transform="translate(1602 503)"><use href="#c"/><text x="-8" y="4">30</text><text class="k" x="8" y="0">*</text></g>
<g id="g8-31" transform="translate(1637 503)"><use href="#S"/><text x="-8" y="4">31</text><text class="k" x="8" y="0">*</text></g>
<g id="g8-32" transform="translate(1675 503)"><use href="#s"/><text x="-8" y="4">32</text></g>
<g id="g8-33" transform="translate(1703 503)"><use href="#c"/><text x="-8" y="4">33</text></g>
<g id="g8-34" transform="translate(1735 503)"><use href="#c"/><text x="-8" y="4">34</text></g>
<g id="g8-35" transform="translate(1768 503)"><use href="#S"/><text x="-8" y="4">35</text></g>
<g id="g8-36" transform="translate(1835 503)"><use href="#D"/><text x="-8" y="4">36</text></g>
<g id="g8-37" transform="translate(2254 503)"><use href="#c"/><text x="-8" y="4">37</text></g>
<g id="g8-38" transform="translate(2302 503)"><use href="#s"/><text x="-8" y="4">38</text></g>
<g id="g8-39" transform="translate(2335 503)"><use href="#c"/><text x="-8" y="4">39</text></g>
<g id="g8-40" transform="translate(2379 503)"><use href="#s"/><text x="-8" y="4">40</text></g>
<g id="g8-41" transform="translate(2420 503)"><use href="#c"/><text x="-8" y="4">41</text></g>
<g id="g8-42" transform="translate(2478 503)"><use href="#q"/><text x="-8" y="4">42</text></g>
<g id="g9-1" transform="translate(113 570)"><use href="#c"/><text x="-8" y="4">1</text></g>
<g id="g9-2" transform="translate(145 570)"><use href="#q"/><text x="-8" y="4">2</text></g>
<g id="g9-3" transform="translate(210 570)"><use href="#c"/><text x="-8" y="4">3</text></g>
<g id="g9-4" transform="translate(238 570)"><use href="#S"/><text x="-8" y="4">4</text></g>
<g id="g9-5" transform="translate(277 570)"><use href="#S"/><text x="-8" y="4">5</text></g>
<g id="g9-6" transform="translate(308 570)"><use href="#C"/><text x="-8" y="4">6</text></g>
<g id="g9-7" transform="translate(333 570)"><use href="#S"/><text x="-8" y="4">7</text></g>
<g id="g9-8" transform="translate(362 570)"><use href="#c"/><text x="-8" y="4">8</text><text class="k" x="8" y="0">*</text></g>
<g id="g9-9" transform="translate(388 570)"><use href="#S"/><text x="-8" y="4">9</text><text class="k" x="8" y="0">*</text></g>
<g id="g9-10" transform="translate(417 570)"><use href="#s"/><text x="-8" y="4">10</text></g>
<g id="g9-11" transform="translate(445 570)"><use href="#c"/><text x="-8" y="4">11</text></g>
<g id="g9-12" transform="translate(472 570)"><use href="#S"/><text x="-8" y="4">12</text></g>
<g id="g9-13" transform="translate(517 570)"><use href="#c"/><text x="-8" y="4">13</text></g>
<g id="g9-14" transform="translate(542 570)"><use href="#s"/><text x="-8" y="4">14</text></g>
<g id="g9-15" transform="translate(573 570)"><use href="#C"/><text x="-8" y="4">15</text></g>
<g id="g9-16" transform="translate(605 570)"><use href="#S"/><text x="-8" y="4">16</text></g>
<g id="g9-17" transform="translate(640 570)"><use href="#C"/><text x="-8" y="4">17</text></g>
<g id="g9-18" transform="translate(673 570)"><use href="#C"/><text x="-8" y="4">18</text></g>
<g id="g9-19" transform="translate(700 570)"><use href="#S"/><text x="-8" y="4">19</text></g>
<g id="g9-20" transform="translate(728 570)"><use href="#c"/><text x="-8" y="4">20</text></g>
<g id="g9-21" transform="translate(752 570)"><use href="#s"/><text x="-8" y="4">21</text></g>
<g id="g9-22" transform="translate(783 570)"><use href="#c"/><text x="-8" y="4">22</text></g>
<g id="g9-23" transform="translate(810 570)"><use href="#s"/><text x="-8" y="4">23</text></g>
<g id="g9-24" transform="translate(843 570)"><use href="#c"/><text x="-8" y="4">24</text></g>
<g id="g9-25" transform="translate(870 570)"><use href="#s"/><text x="-8" y="4">25</text></g>
<g id="g9-26" transform="translate(920 570)"><use href="#C"/><text x="-8" y="4">26</text></g>
<g id="g9-27" transform="translate(950 570)"><use href="#S"/><text x="-8" y="4">27</text></g>
<g id="g9-28" transform="translate(1018 570)"><use href="#c"/><text x="-8" y="4">28</text></g>
<g id="g9-29" transform="translate(1052 570)"><use href="#c"/><text x="-8" y="4">29</text></g>
<g id="g9-30" transform="translate(1142 570)"><use href="#S"/><text x="-8" y="4">30</text></g>
<g id="g9-31" transform="translate(1180 570)"><use href="#C"/><text x="-8" y="4">31</text></g>
<g id="g9-32" transform="translate(1360 570)"><use href="#c"/><text x="-8" y="4">32</text></g>
<g id="g9-33" transform="translate(1464 570)"><use href="#c"/><text x="-8" y="4">33</text></g>
<g id="g9-34" transform="translate(1509 570)"><use href="#s"/><text x="-8" y="4">34</text></g>
<g id="g9-35" transform="translate(1556 570)"><use href="#c"/><text x="-8" y="4">35</text></g>
<g id="g9-36" transform="translate(1608 570)"><use href="#c"/><text x="-8" y="4">36</text></g>
<g id="g9-37" transform="translate(1642 570)"><use href="#S"/><text x="-8" y="4">37</text><text class="k" x="8" y="0">*</text></g>
<g id="g9-38" transform="translate(1675 570)"><use href="#c"/><text x="-8" y="4">38</text></g>
<g id="g9-39" transform="translate(1712 570)"><use href="#q"/><text x="-8" y="4">39</text></g>
<g id="g9-40" transform="translate(1740 570)"><use href="#c"/><text x="-8" y="4">40</text></g>
<g id="g9-41" transform="translate(1777 570)"><use href="#S"/><text x="-8" y="4">41</text><text class="k" x="8" y="0">*</text></g>
<g id="g9-42" transform="translate(1873 570)" opacity="0.75"><use href="#c"/><text x="-8" y="4">42</text><text class="k" x="8" y="0">*</text></g>
<g id="g9-43" transform="translate(1938 570)"><use href="#s"/><text x="-8" y="4">43</text></g>
<g id="g9-44" transform="translate(1975 570)"><use href="#c"/><text x="-8" y="4">44</text></g>
<g id="g9-45" transform="translate(2008 570)"><use href="#c"/><text x="-8" y="4">45</text></g>
<g id="g9-46" transform="translate(2068 570)"><use href="#s"/><text x="-8" y="4">46</text></g>
<g id="g9-47" transform="translate(2175 570)"><use href="#c"/><text x="-8" y="4">47</text></g>
<g id="g9-48" transform="translate(2215 570)"><use href="#s"/><text x="-8" y="4">48</text></g>
<g id="g9-49" transform="translate(2248 570)"><use href="#c"/><text x="-8" y="4">49</text></g>
<g id="g9-50" transform="translate(2282 570)"><use href="#c"/><text x="-8" y="4">50</text></g>
<g id="g9-51" transform="translate(2315 570)"><use href="#s"/><text x="-8" y="4">51</text></g>
<g id="g9-52" transform="translate(2348 570)"><use href="#c"/><text x="-8" y="4">52</text></g>
<g id="g9-53" transform="translate(2422 570)"><use href="#s"/><text x="-8" y="4">53</text></g>
<g id="g9-54" transform="translate(2467 570)"><use href="#D"/><text x="-8" y="4">54</text></g>
<g id="g10-1" transform="translate(100 637)"><use href="#B"/><text x="-8" y="4">1</text></g>
<g id="g10-2" transform="translate(135 637)"><use href="#C"/><text x="-8" y="4">2</text></g>
<g id="g10-3" transform="translate(167 637)"><use href="#C"/><text x="-8" y="4">3</text></g>
<g id="g10-4" transform="translate(235 637)"><use href="#c"/><text x="-8" y="4">4</text><text class="k" x="8" y="0">*</text></g>
<g id="g10-5" transform="translate(267 637)"><use href="#c"/><text x="-8" y="4">5</text></g>
<g id="g10-6" transform="translate(302 637)"><use href="#c"/><text x="-8" y="4">6</text></g>
<g id="g10-7" transform="translate(330 637)"><use href="#s"/><text x="-8" y="4">7</text></g>
<g id="g10-8" transform="translate(355 637)"><use href="#c"/><text x="-8" y="4">8</text></g>
<g id="g10-9" transform="translate(382 637)"><use href="#S"/><text x="-8" y="4">9</text><text class="k" x="8" y="0">*</text></g>
<g id="g10-10" transform="translate(417 637)"><use href="#c"/><text x="-8" y="4">10</text></g>
<g id="g10-11" transform="translate(452 637)"><use href="#s"/><text x="-8" y="4">11</text></g>
<g id="g10-12" transform="translate(478 628)"><use href="#c"/><text x="-8" y="4">12</text><text class="k" x="8" y="0">*</text></g>
<g id="g10-13" transform="translate(498 637)"><use href="#s"/><text x="-8" y="4">13</text></g>
<g id="g10-14" transform="translate(526 637)"><use href="#c"/><text x="-8" y="4">14</text><text class="k" x="8" y="0">*</text></g>
<g id="g10-15" transform="translate(552 637)"><use href="#S"/><text x="-8" y="4">15</text><text class="k" x="8" y="0">*</text></g>
<g id="g10-16" transform="translate(579 637)"><use href="#c"/><text x="-8" y="4">16</text></g>
<g id="g10-17" transform="translate(607 637)"><use href="#s"/><text x="-8" y="4">17</text></g>
<g id="g10-18" transform="translate(672 637)"><use href="#c"/><text x="-8" y="4">18</text></g>
<g id="g10-19" transform="translate(703 637)"><use href="#s"/><text x="-8" y="4">19</text></g>
<g id="g10-20" transform="translate(760 637)"><use href="#c"/><text x="-8" y="4">20</text></g>
<g id="g10-21" transform="translate(790 637)"><use href="#s"/><text x="-8" y="4">21</text></g>
<g id="g10-22" transform="translate(825 637)"><use href="#s"/><text x="-8" y="4">22</text><text class="k" x="8" y="0">*</text></g>
<g id="g10-23" transform="translate(857 637)"><use href="#c"/><text x="-8" y="4">23</text><text class="k" x="8" y="0">*</text></g>
<g id="g10-24" transform="translate(887 637)"><use href="#S"/><text x="-8" y="4">24</text></g>
<g id="g10-25" transform="translate(925 637)"><use href="#S"/><text x="-8" y="4">25</text></g>
<g id="g10-26" transform="translate(957 637)"><use href="#S"/><text x="-8" y="4">26</text></g>
<g id="g10-27" transform="translate(992 637)"><use href="#C"/><text x="-8" y="4">27</text></g>
<g id="g10-28" transform="translate(1017 637)"><use href="#s"/><text x="-8" y="4">28</text></g>
<g id="g10-29" transform="translate(1050 637)"><use href="#c"/><text x="-8" y="4">29</text><text class="k" x="8" y="0">*</text></g>
<g id="g10-30" transform="translate(1078 637)"><use href="#S"/><text x="-8" y="4">30</text></g>
<g id="g10-31" transform="translate(1112 637)"><use href="#c"/><text x="-8" y="4">31</text></g>
<g id="g10-32" transform="translate(1143 637)"><use href="#S"/><text x="-8" y="4">32</text></g>
<g id="g10-33" transform="translate(1180 637)"><use href="#S"/><text x="-8" y="4">33</text></g>
<g id="g10-34" transform="translate(1333 637)"><use href="#S"/><text x="-8" y="4">34</text></g>
<g id="g10-35" transform="translate(1367 637)"><use href="#S"/><text x="-8" y="4">35</text></g>
<g id="g10-36" transform="translate(1435 637)"><use href="#C"/><text x="-8" y="4">36</text></g>
<g id="g10-37" transform="translate(1473 637)"><use href="#C"/><text x="-8" y="4">37</text></g>
<g id="g10-38" transform="translate(1508 637)"><use href="#S"/><text x="-8" y="4">38</text></g>
<g id="g10-39" transform="translate(1543 637)"><use href="#S"/><text x="-8" y="4">39</text></g>
<g id="g10-40" transform="translate(1577 637)"><use href="#C"/><text x="-8" y="4">40</text></g>
<g id="g10-41" transform="translate(1608 637)"><use href="#C"/><text x="-8" y="4">41</text></g>
<g id="g10-42" transform="translate(1643 637)"><use href="#C"/><text x="-8" y="4">42</text></g>
<g id="g10-43" transform="translate(1677 637)"><use href="#c"/><text x="-8" y="4">43</text></g>
<g id="g10-44" transform="translate(1710 637)"><use href="#s"/><text x="-8" y="4">44</text></g>
<g id="g10-45" transform="translate(1740 637)"><use href="#s"/><text x="-8" y="4">45</text></g>
<g id="g10-46" transform="translate(1777 637)"><use href="#c"/><text x="-8" y="4">46</text></g>
<g id="g10-47" transform="translate(1810 637)"><use href="#S"/><text x="-8" y="4">47</text></g>
<g id="g10-48" transform="translate(1842 637)"><use href="#B"/><text x="-8" y="4">48</text><text class="k" x="8" y="0">*</text></g>
<g id="g10-49" transform="translate(1875 637)"><use href="#B"/><text x="-8" y="4">49</text><text class="k" x="8" y="0">*</text></g>
<g id="g10-50" transform="translate(1908 637)"><use href="#S"/><text x="-8" y="4">50</text><text class="k" x="8" y="0">*</text></g>
<g id="g10-51" transform="translate(1942 637)"><use href="#C"/><text x="-8" y="4">51</text><text class="k" x="8" y="0">*</text></g>
<g id="g10-52" transform="translate(1967 637)"><use href="#S"/><text x="-8" y="4">52</text></g>
<g id="g10-53" transform="translate(2002 637)"><use href="#c"/><text x="-8" y="4">53</text></g>
<g id="g10-54" transform="translate(2033 637)"><use href="#S"/><text x="-8" y="4">54</text></g>
<g id="g10-55" transform="translate(2068 637)"><use href="#C"/><text x="-8" y="4">55</text></g>
<g id="g10-56" transform="translate(2102 637)"><use href="#C"/><text x="-8" y="4">56</text></g>
<g id="g10-57" transform="translate(2133 637)"><use href="#s"/><text x="-8" y="4">57</text><text class="k" x="8" y="0">*</text></g>
<g id="g10-58" transform="translate(2168 637)"><use href="#c"/><text x="-8" y="4">58</text><text class="k" x="8" y="0">*</text></g>
<g id="g10-59" transform="translate(2200 637)"><use href="#s"/><text x="-8" y="4">59</text><text class="k" x="8" y="0">*</text></g>
<g id="g10-60" transform="translate(2235 637)"><use href="#s"/><text x="-8" y="4">60</text></g>
<g id="g10-61" transform="translate(2275 637)"><use href="#c"/><text x="-8" y="4">61</text></g>
<g id="g10-62" transform="translate(2312 637)"><use href="#s"/><text x="-8" y="4">62</text><text class="k" x="8" y="0">*</text></g>
<g id="g10-63" transform="translate(2350 637)"><use href="#c"/><text x="-8" y="4">63</text><text class="k" x="8" y="0">*</text></g>
<g id="g10-64" transform="translate(2413 637)"><use href="#c"/><text x="-8" y="4">64</text></g>
<g id="g11-1" transform="translate(180 705)"><use href="#s"/><text x="-8" y="4">1</text><text class="k" x="8" y="0">*</text></g>
<g id="g11-2" transform="translate(267 705)"><use href="#S"/><text x="-8" y="4">2</text></g>
<g id="g11-3" transform="translate(297 705)"><use href="#c"/><text x="-8" y="4">3</text></g>
<g id="g11-4" transform="translate(322 705)"><use href="#c"/><text x="-8" y="4">4</text><text class="k" x="8" y="0">*</text></g>
<g id="g11-5" transform="translate(350 705)"><use href="#c"/><text x="-8" y="4">5</text></g>
<g id="g11-6" transform="translate(433 705)"><use href="#s"/><text x="-8" y="4">6</text><text class="k" x="8" y="0">*</text></g>
<g id="g11-7" transform="translate(463 705)"><use href="#S"/><text x="-8" y="4">7</text><text class="k" x="8" y="0">*</text></g>
<g id="g11-8" transform="translate(498 705)"><use href="#S"/><text x="-8" y="4">8</text><text class="k" x="8" y="0">*</text></g>
<g id="g11-9" transform="translate(532 705)"><use href="#S"/><text x="-8" y="4">9</text><text class="k" x="8" y="0">*</text></g>
<g id="g11-10" transform="translate(567 705)"><use href="#C"/><text x="-8" y="4">10</text><text class="k" x="8" y="0">*</text></g>
<g id="g11-11" transform="translate(602 705)"><use href="#s"/><text x="-8" y="4">11</text></g>
<g id="g11-12" transform="translate(632 705)"><use href="#c"/><text x="-8" y="4">12</text></g>
<g id="g11-13" transform="translate(673 705)"><use href="#c"/><text x="-8" y="4">13</text></g>
<g id="g11-14" transform="translate(735 705)"><use href="#s"/><text x="-8" y="4">14</text></g>
<g id="g11-15" transform="translate(788 705)"><use href="#c"/><text x="-8" y="4">15</text></g>
<g id="g11-16" transform="translate(845 705)"><use href="#s"/><text x="-8" y="4">16</text><text class="k" x="8" y="0">*</text></g>
<g id="g11-17" transform="translate(957 705)"><use href="#c"/><text x="-8" y="4">17</text><text class="k" x="8" y="0">*</text></g>
<g id="g11-18" transform="translate(1030 705)"><use href="#c"/><text x="-8" y="4">18</text><text class="k" x="8" y="0">*</text></g>
<g id="g11-19" transform="translate(1072 705)"><use href="#s"/><text x="-8" y="4">19</text><text class="k" x="8" y="0">*</text></g>
<g id="g11-20" transform="translate(1125 705)"><use href="#S"/><text x="-8" y="4">20</text></g>
<g id="g11-21" transform="translate(1207 705)"><use href="#c"/><text x="-8" y="4">21</text><text class="k" x="8" y="0">*</text></g>
<g id="g11-22" transform="translate(1242 705)"><use href="#s"/><text x="-8" y="4">22</text><text class="k" x="8" y="0">*</text></g>
<g id="g11-23" transform="translate(1643 705)"><use href="#c"/><text x="-8" y="4">23</text></g>
<g id="g11-24" transform="translate(1682 705)"><use href="#s"/><text x="-8" y="4">24</text></g>
<g id="g11-25" transform="translate(1723 705)"><use href="#c"/><text x="-8" y="4">25</text></g>
<g id="g11-26" transform="translate(1765 705)"><use href="#S"/><text x="-8" y="4">26</text></g>
<g id="g11-27" transform="translate(1900 705)"><use href="#c"/><text x="-8" y="4">27</text><text class="k" x="8" y="0">*</text></g>
<g id="g11-28" transform="translate(1935 705)"><use href="#s"/><text x="-8" y="4">28</text><text class="k" x="8" y="0">*</text></g>
<g id="g11-29" transform="translate(2085 705)"><use href="#s"/><text x="-8" y="4">29</text></g>
<g id="g11-30" transform="translate(2123 705)"><use href="#c"/><text x="-8" y="4">30</text></g>
<g id="g11-31" transform="translate(2157 705)"><use href="#c"/><text x="-8" y="4">31</text><text class="k" x="8" y="0">*</text></g>
<g id="g11-32" transform="translate(2188 705)"><use href="#s"/><text x="-8" y="4">32</text><text class="k" x="8" y="0">*</text></g>
<g id="g11-33" transform="translate(2275 705)"><use href="#c"/><text x="-8" y="4">33</text></g>
<g id="g11-34" transform="translate(2362 705)"><use href="#c"/><text x="-8" y="4">34</text></g>
<g id="g11-35" transform="translate(2393 705)"><use href="#B"/><text x="-8" y="4">35</text></g>
<g id="g11-36" transform="translate(2428 705)"><use href="#D"/><text x="-8" y="4">36</text></g>
<g id="g11-37" transform="translate(2458 705)"><use href="#D"/><text x="-8" y="4">37</text></g>
<g id="g11-38" transform="translate(2492 705)"><use href="#s"/><text x="-8" y="4">38</text></g>
<g id="g11-39" transform="translate(2526 705)"><use href="#c"/><text x="-8" y="4">39</text></g>
<g id="g12-1" transform="translate(165 773)"><use href="#c"/><text x="-8" y="4">1</text><text class="k" x="8" y="0">*</text></g>
<g id="g12-2" transform="translate(202 773)"><use href="#s"/><text x="-8" y="4">2</text><text class="k" x="8" y="0">*</text></g>
<g id="g12-3" transform="translate(270 773)"><use href="#s"/><text x="-8" y="4">3</text></g>
<g id="g12-4" transform="translate(302 773)"><use href="#c"/><text x="-8" y="4">4</text></g>
<g id="g12-5" transform="translate(335 773)"><use href="#C"/><text x="-8" y="4">5</text></g>
<g id="g12-6" transform="translate(368 773)"><use href="#C"/><text x="-8" y="4">6</text></g>
<g id="g12-7" transform="translate(400 773)"><use href="#S"/><text x="-8" y="4">7</text></g>
<g id="g12-8" transform="translate(433 773)"><use href="#s"/><text x="-8" y="4">8</text></g>
<g id="g12-9" transform="translate(457 773)"><use href="#c"/><text x="-8" y="4">9</text></g>
<g id="g12-10" transform="translate(487 773)"><use href="#S"/><text x="-8" y="4">10</text></g>
<g id="g12-11" transform="translate(518 773)"><use href="#C"/><text x="-8" y="4">11</text></g>
<g id="g12-12" transform="translate(552 773)"><use href="#S"/><text x="-8" y="4">12</text></g>
<g id="g12-13" transform="translate(580 773)"><use href="#S"/><text x="-8" y="4">13</text></g>
<g id="g12-14" transform="translate(607 773)"><use href="#S"/><text x="-8" y="4">14</text></g>
<g id="g12-15" transform="translate(633 773)"><use href="#C"/><text x="-8" y="4">15</text></g>
<g id="g12-16" transform="translate(662 773)"><use href="#S"/><text x="-8" y="4">16</text></g>
<g id="g12-17" transform="translate(702 773)"><use href="#S"/><text x="-8" y="4">17</text></g>
<g id="g12-18" transform="translate(728 773)"><use href="#S"/><text x="-8" y="4">18</text></g>
<g id="g12-19" transform="translate(753 773)"><use href="#S"/><text x="-8" y="4">19</text></g>
<g id="g12-20" transform="translate(780 773)"><use href="#C"/><text x="-8" y="4">20</text></g>
<g id="g12-21" transform="translate(807 773)"><use href="#C"/><text x="-8" y="4">21</text></g>
<g id="g12-22" transform="translate(833 773)"><use href="#C"/><text x="-8" y="4">22</text></g>
<g id="g12-23" transform="translate(862 773)"><use href="#C"/><text x="-8" y="4">23</text></g>
<g id="g12-24" transform="translate(887 773)"><use href="#C"/><text x="-8" y="4">24</text></g>
<g id="g12-25" transform="translate(928 773)"><use href="#c"/><text x="-8" y="4">25</text><text class="k" x="8" y="0">*</text></g>
<g id="g12-26" transform="translate(963 773)"><use href="#s"/><text x="-8" y="4">26</text><text class="k" x="8" y="0">*</text></g>
<g id="g12-27" transform="translate(1038 773)"><use href="#S"/><text x="-8" y="4">27</text><text class="k" x="8" y="0">*</text></g>
<g id="g12-28" transform="translate(1072 773)"><use href="#C"/><text x="-8" y="4">28</text><text class="k" x="8" y="0">*</text></g>
<g id="g12-29" transform="translate(1218 773)"><use href="#S"/><text x="-8" y="4">29</text><text class="k" x="8" y="0">*</text></g>
<g id="g12-30" transform="translate(1643 773)"><use href="#c"/><text x="-8" y="4">30</text></g>
<g id="g12-31" transform="translate(1677 773)"><use href="#s"/><text x="-8" y="4">31</text></g>
<g id="g12-32" transform="translate(1710 773)"><use href="#s"/><text x="-8" y="4">32</text></g>
<g id="g12-33" transform="translate(1743 773)"><use href="#c"/><text x="-8" y="4">33</text></g>
<g id="g12-34" transform="translate(1915 773)"><use href="#S"/><text x="-8" y="4">34</text><text class="k" x="8" y="0">*</text></g>
<g id="g12-35" transform="translate(2073 773)"><use href="#s"/><text x="-8" y="4">35</text></g>
<g id="g12-36" transform="translate(2107 773)"><use href="#c"/><text x="-8" y="4">36</text></g>
<g id="g12-37" transform="translate(2147 773)"><use href="#S"/><text x="-8" y="4">37</text><text class="k" x="8" y="0">*</text></g>
<g id="g12-38" transform="translate(2182 773)"><use href="#C"/><text x="-8" y="4">38</text><text class="k" x="8" y="0">*</text></g>
<g id="g12-39" transform="translate(2215 773)"><use href="#S"/><text x="-8" y="4">39</text></g>
<g id="g12-40" transform="translate(2248 773)"><use href="#S"/><text x="-8" y="4">40</text></g>
<g id="g12-41" transform="translate(2280 773)"><use href="#B"/><text x="-8" y="4">41</text></g>
<g id="g12-42" transform="translate(2315 773)"><use href="#D"/><text x="-8" y="4">42</text></g>
<g id="g12-43" transform="translate(2347 773)"><use href="#D"/><text x="-8" y="4">43</text></g>
<g id="g12-44" transform="translate(2513 773)"><use href="#c"/><text x="-8" y="4">44</text></g>
<g id="g13-1" transform="translate(108 839)"><use href="#B"/><text x="-8" y="4">1</text><text class="k" x="8" y="0">*</text></g>
<g id="g13-2" transform="translate(145 839)"><use href="#C"/><text x="-8" y="4">2</text><text class="k" x="8" y="0">*</text></g>
<g id="g13-3" transform="translate(187 839)"><use href="#C"/><text x="-8" y="4">3</text><text class="k" x="8" y="0">*</text></g>
<g id="g13-4" transform="translate(225 839)"><use href="#C"/><text x="-8" y="4">4</text><text class="k" x="8" y="0">*</text></g>
<g id="g13-5" transform="translate(265 839)"><use href="#S"/><text x="-8" y="4">5</text></g>
<g id="g13-6" transform="translate(300 839)"><use href="#C"/><text x="-8" y="4">6</text></g>
<g id="g13-7" transform="translate(423 839)"><use href="#c"/><text x="-8" y="4">7</text></g>
<g id="g13-8" transform="translate(460 839)"><use href="#s"/><text x="-8" y="4">8</text></g>
<g id="g13-9" transform="translate(492 839)"><use href="#c"/><text x="-8" y="4">9</text></g>
<g id="normals"><text x="515" y="843" style="text-anchor:start">39</text><text class="sm" x="530" y="843">NORMALS</text></g>
<g id="g13-10" transform="translate(700 839)"><use href="#c"/><text x="-8" y="4">10</text></g>
<g id="g13-11" transform="translate(735 839)"><use href="#s"/><text x="-8" y="4">11</text></g>
<g id="g13-12" transform="translate(768 839)"><use href="#S"/><text x="-8" y="4">12</text></g>
<g id="g13-13" transform="translate(855 839)"><use href="#c"/><text x="-8" y="4">13</text></g>
<g id="g13-14" transform="translate(888 839)"><use href="#s"/><text x="-8" y="4">14</text></g>
<g id="g13-15" transform="translate(922 839)"><use href="#S"/><text x="-8" y="4">15</text><text class="k" x="8" y="0">*</text></g>
<g id="g13-16" transform="translate(957 839)"><use href="#C"/><text x="-8" y="4">16</text><text class="k" x="8" y="0">*</text></g>
<g id="g13-17" transform="translate(990 839)"><use href="#C"/><text x="-8" y="4">17</text><text class="k" x="8" y="0">*</text></g>
<g id="g13-18" transform="translate(1018 839)"><use href="#C"/><text x="-8" y="4">18</text><text class="k" x="8" y="0">*</text></g>
<g id="g13-19" transform="translate(1645 839)"><use href="#C"/><text x="-8" y="4">19</text></g>
<g id="g13-20" transform="translate(1675 839)"><use href="#C"/><text x="-8" y="4">20</text></g>
<g id="g13-21" transform="translate(1728 839)"><use href="#S"/><text x="-8" y="4">21</text></g>
<g id="g13-22" transform="translate(2042 839)"><use href="#D"/><text x="-8" y="4">22</text></g>
<g id="g13-23" transform="translate(2075 839)"><use href="#D"/><text x="-8" y="4">23</text></g>
<g id="g13-24" transform="translate(2107 839)"><use href="#D"/><text x="-8" y="4">24</text></g>
<g id="g13-25" transform="translate(2500 839)"><use href="#B"/><text x="-8" y="4">25</text></g>
<g id="g14-1" transform="translate(340 906)"><use href="#S"/><text x="-8" y="4">1</text></g>
<g id="g14-2" transform="translate(377 906)"><use href="#S"/><text x="-8" y="4">2</text></g>
<g id="g14-3" transform="translate(415 906)"><use href="#S"/><text x="-8" y="4">3</text></g>
<g id="g14-4" transform="translate(450 906)"><use href="#C"/><text x="-8" y="4">4</text></g>
<g id="g14-5" transform="translate(483 906)"><use href="#C"/><text x="-8" y="4">5</text></g>
<g id="g14-6" transform="translate(702 906)"><use href="#S"/><text x="-8" y="4">6</text></g>
<g id="g14-7" transform="translate(735 906)"><use href="#S"/><text x="-8" y="4">7</text></g>
<g id="g14-8" transform="translate(817 906)"><use href="#S"/><text x="-8" y="4">8</text></g>
<g id="g14-9" transform="translate(855 906)"><use href="#S"/><text x="-8" y="4">9</text></g>
<g id="g14-10" transform="translate(890 906)"><use href="#C"/><text x="-8" y="4">10</text></g>
<g id="g14-11" transform="translate(925 906)"><use href="#C"/><text x="-8" y="4">11</text></g>
</g>
</svg>
